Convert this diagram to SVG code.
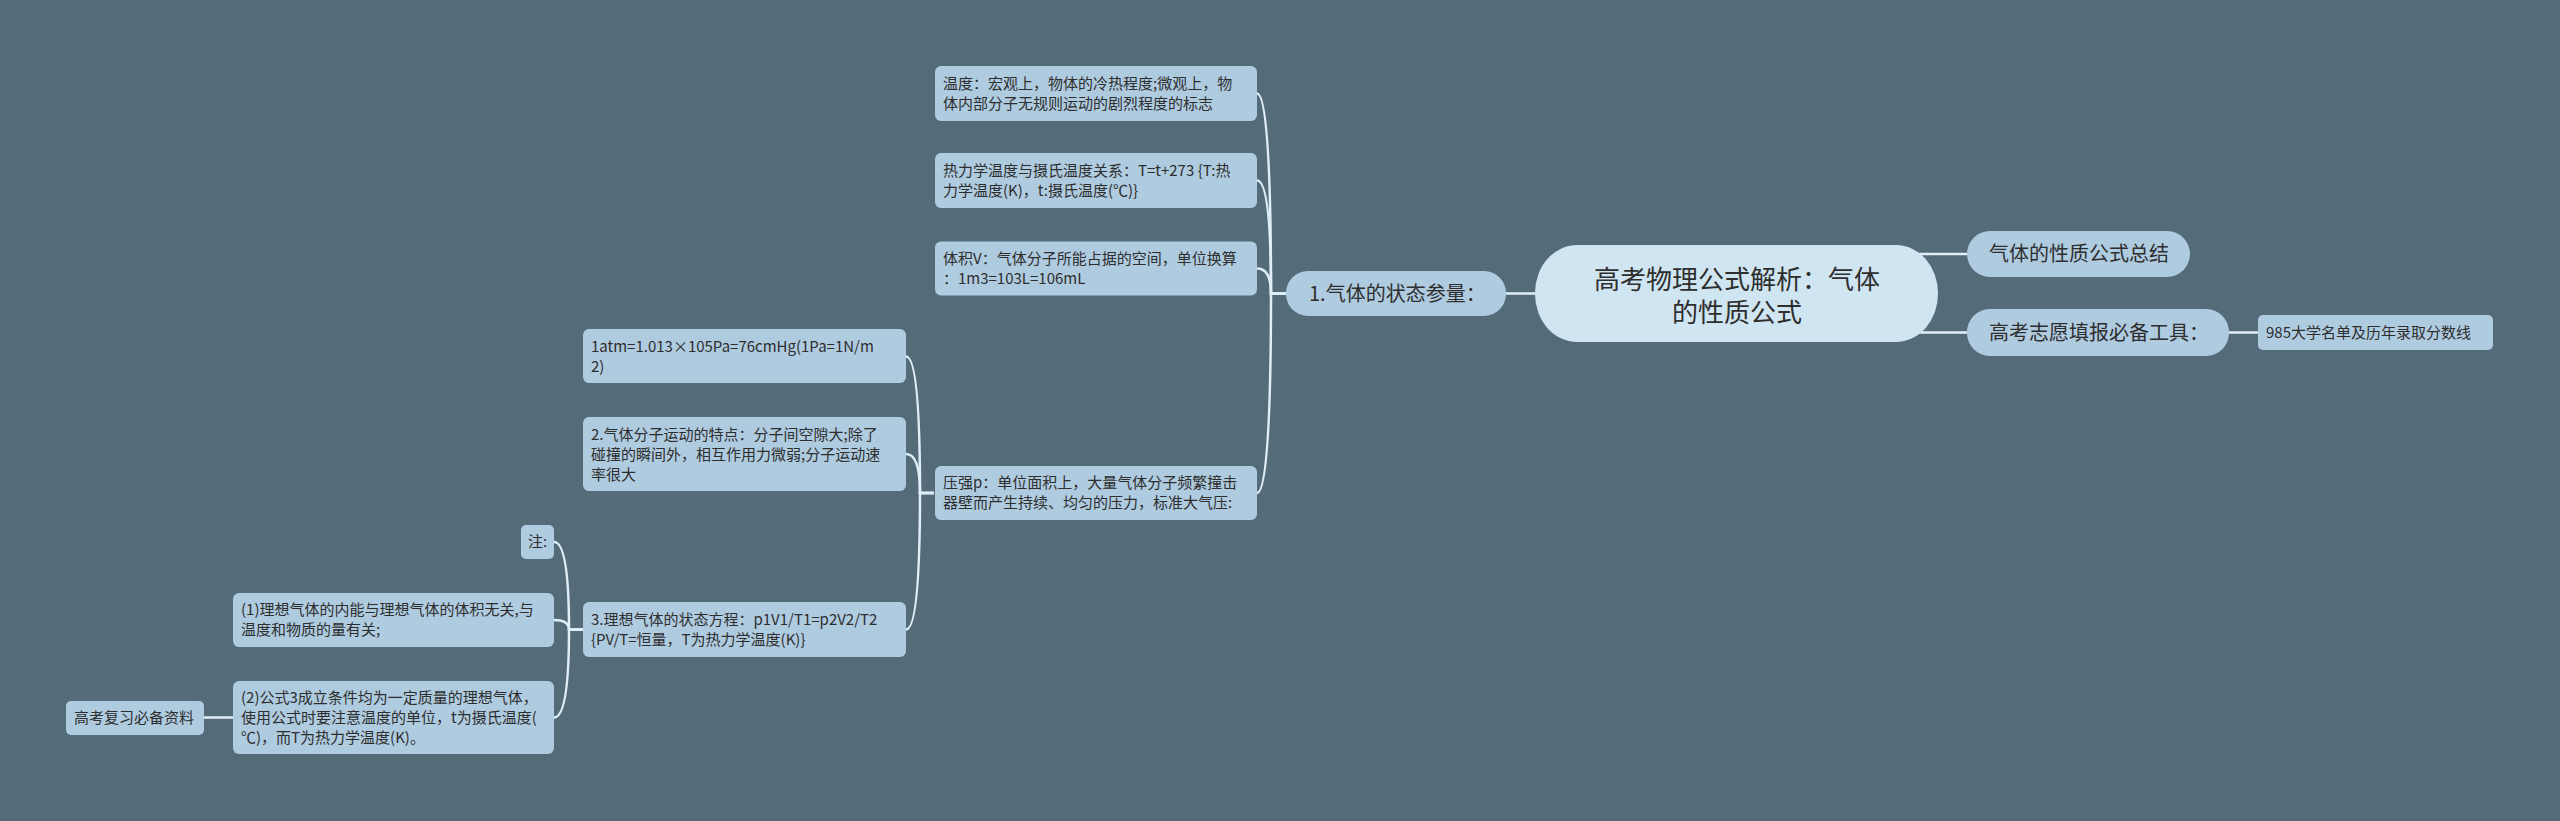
<svg xmlns="http://www.w3.org/2000/svg" width="2560" height="821" viewBox="0 0 2560 821">
<style>
.bg{fill:#546b7a}
.box{fill:#aecbe0}
.pill{fill:#aecbe0}
.root{fill:#cfe5f1}
.t{font-family:"Noto Sans CJK SC","Noto Sans",sans-serif;fill:#2e2e2e;font-size:15px}
.tm{font-family:"Noto Sans CJK SC","Noto Sans",sans-serif;fill:#2e2e2e;font-size:20px}
.tr{font-family:"Noto Sans CJK SC","Noto Sans",sans-serif;fill:#2e2e2e;font-size:26px;text-anchor:middle}
.c{fill:none;stroke:#e0eff7;stroke-width:2.5}
</style>
<rect class="bg" x="0" y="0" width="2560" height="821"/>
<g id="connectors">
<path class="c" d="M1915 254 H1967"/>
<path class="c" d="M1915 332.5 H1967"/>
<path class="c" d="M2229 332.5 H2258"/>
<path class="c" d="M1540 293.5 H1506"/>
<path class="c" d="M1257 93.5 Q1271 93.5 1271 293.5 H1286"/>
<path class="c" d="M1257 180.5 Q1271 180.5 1271 293.5 H1286"/>
<path class="c" d="M1257 268.5 Q1271 268.5 1271 293.5 H1286"/>
<path class="c" d="M1257 493 Q1271 493 1271 293.5 H1286"/>
<path class="c" d="M906 356.5 Q920 356.5 920 493 H934"/>
<path class="c" d="M906 454 Q920 454 920 493 H934"/>
<path class="c" d="M906 629.5 Q920 629.5 920 493 H934"/>
<path class="c" d="M554 542 Q569 542 569 629.5 H583"/>
<path class="c" d="M554 620 Q569 620 569 629.5 H583"/>
<path class="c" d="M554 717.5 Q569 717.5 569 629.5 H583"/>
<path class="c" d="M233 717.5 H204"/>
</g>
<g id="root">
<rect class="root" x="1535" y="245" width="403" height="97" rx="42" ry="48"/>
<text class="tr" x="1737" y="289">高考物理公式解析：气体</text>
<text class="tr" x="1737" y="322">的性质公式</text>
</g>
<g id="n-summary">
<rect class="pill" x="1967" y="231" width="223" height="46" rx="23"/>
<text class="tm" x="1989" y="261">气体的性质公式总结</text>
</g>
<g id="n-tools">
<rect class="pill" x="1967" y="309" width="262" height="47" rx="23"/>
<text class="tm" x="1989" y="339.5">高考志愿填报必备工具：</text>
</g>
<g id="n-985">
<rect class="box" x="2258" y="315" width="235" height="35" rx="5"/>
<text class="t" x="2266" y="338">985大学名单及历年录取分数线</text>
</g>
<g id="n-state">
<rect class="pill" x="1286" y="271" width="220" height="45" rx="22"/>
<text class="tm" x="1309" y="300.5">1.气体的状态参量：</text>
</g>
<g id="n-temp">
<rect class="box" x="935" y="66" width="322" height="55" rx="6"/>
<text class="t" x="943" y="89">温度：宏观上，物体的冷热程度;微观上，物</text>
<text class="t" x="943" y="109">体内部分子无规则运动的剧烈程度的标志</text>
</g>
<g id="n-thermo">
<rect class="box" x="935" y="153" width="322" height="55" rx="6"/>
<text class="t" x="943" y="176">热力学温度与摄氏温度关系：T=t+273 {T:热</text>
<text class="t" x="943" y="196">力学温度(K)，t:摄氏温度(℃)}</text>
</g>
<g id="n-volume">
<rect class="box" x="935" y="241.5" width="322" height="54" rx="6"/>
<text class="t" x="943" y="264">体积V：气体分子所能占据的空间，单位换算</text>
<text class="t" x="943" y="284">：1m3=103L=106mL</text>
</g>
<g id="n-pressure">
<rect class="box" x="935" y="466" width="322" height="54" rx="6"/>
<text class="t" x="943" y="488">压强p：单位面积上，大量气体分子频繁撞击</text>
<text class="t" x="943" y="508">器壁而产生持续、均匀的压力，标准大气压:</text>
</g>
<g id="n-atm">
<rect class="box" x="583" y="329" width="323" height="54" rx="6"/>
<text class="t" x="591" y="352">1atm=1.013×105Pa=76cmHg(1Pa=1N/m</text>
<text class="t" x="591" y="372">2)</text>
</g>
<g id="n-motion">
<rect class="box" x="583" y="417" width="323" height="74" rx="6"/>
<text class="t" x="591" y="440">2.气体分子运动的特点：分子间空隙大;除了</text>
<text class="t" x="591" y="460">碰撞的瞬间外，相互作用力微弱;分子运动速</text>
<text class="t" x="591" y="480">率很大</text>
</g>
<g id="n-ideal">
<rect class="box" x="583" y="602" width="323" height="55" rx="6"/>
<text class="t" x="591" y="625">3.理想气体的状态方程：p1V1/T1=p2V2/T2</text>
<text class="t" x="591" y="645"> {PV/T=恒量，T为热力学温度(K)}</text>
</g>
<g id="n-note">
<rect class="box" x="521" y="525" width="33" height="34" rx="5"/>
<text class="t" x="528" y="547">注:</text>
</g>
<g id="n-note1">
<rect class="box" x="233" y="593" width="321" height="54" rx="6"/>
<text class="t" x="241" y="615">(1)理想气体的内能与理想气体的体积无关,与</text>
<text class="t" x="241" y="635">温度和物质的量有关;</text>
</g>
<g id="n-note2">
<rect class="box" x="233" y="681" width="321" height="73" rx="6"/>
<text class="t" x="241" y="703">(2)公式3成立条件均为一定质量的理想气体，</text>
<text class="t" x="241" y="723">使用公式时要注意温度的单位，t为摄氏温度(</text>
<text class="t" x="241" y="743">℃)，而T为热力学温度(K)。</text>
</g>
<g id="n-review">
<rect class="box" x="66" y="701" width="138" height="34" rx="5"/>
<text class="t" x="74" y="723">高考复习必备资料</text>
</g>
</svg>
